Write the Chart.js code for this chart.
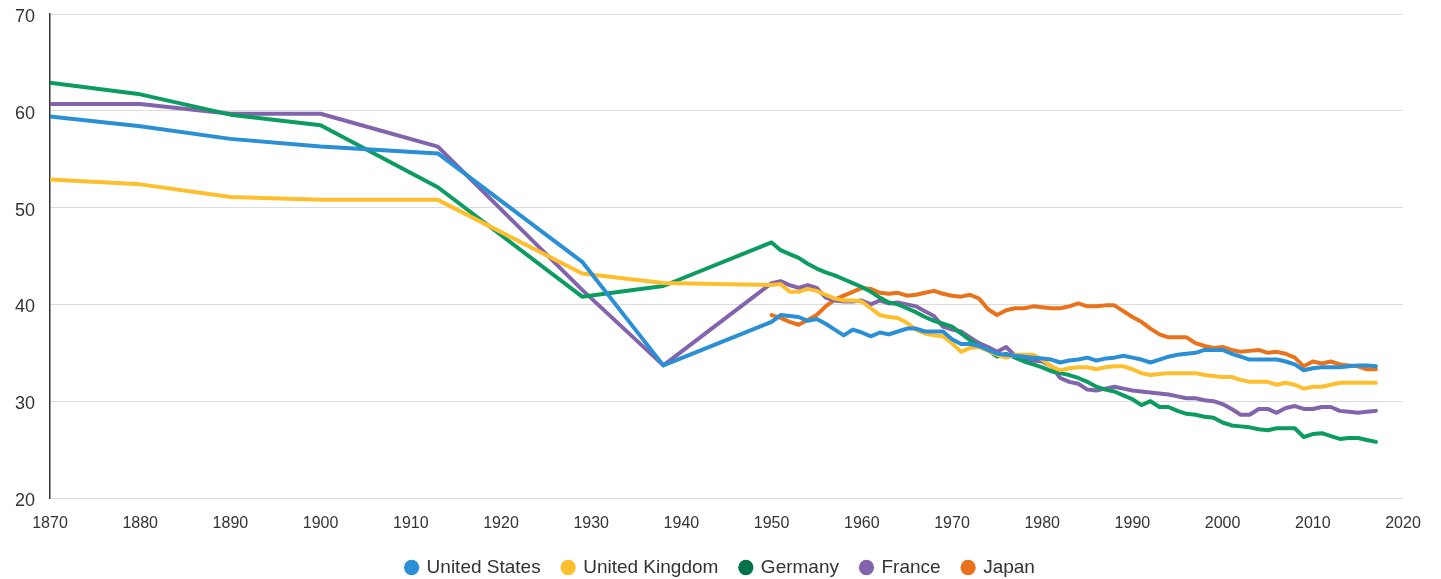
<!DOCTYPE html>
<html>
<head>
<meta charset="utf-8">
<script src="https://cdn.jsdelivr.net/npm/chart.js@4.4.1/dist/chart.umd.min.js"></script>
<style>
html,body{margin:0;padding:0;background:#fff;}
#wrap{width:1441px;height:579px;position:relative;}
</style>
</head>
<body>
<div id="wrap"><canvas id="c" width="1441" height="579"></canvas></div>
<script>
const years = [1870,1880,1890,1900,1913,1929,1938,
1950,1951,1952,1953,1954,1955,1956,1957,1958,1959,
1960,1961,1962,1963,1964,1965,1966,1967,1968,1969,
1970,1971,1972,1973,1974,1975,1976,1977,1978,1979,
1980,1981,1982,1983,1984,1985,1986,1987,1988,1989,
1990,1991,1992,1993,1994,1995,1996,1997,1998,1999,
2000,2001,2002,2003,2004,2005,2006,2007,2008,2009,
2010,2011,2012,2013,2014,2015,2016,2017];

const unitedStates = [59.4,58.4,57.1,56.3,55.6,44.4,33.7,
38.2,38.9,38.8,38.7,38.3,38.5,38.0,37.4,36.8,37.4,
37.1,36.7,37.1,36.9,37.2,37.5,37.5,37.2,37.2,37.2,
36.4,35.9,35.9,35.7,35.3,34.9,34.8,34.7,34.6,34.5,
34.4,34.3,34.0,34.2,34.3,34.5,34.2,34.4,34.5,34.7,
34.5,34.3,34.0,34.3,34.6,34.8,34.9,35.0,35.3,35.3,
35.3,34.9,34.6,34.3,34.3,34.3,34.3,34.1,33.8,33.2,
33.4,33.5,33.5,33.5,33.6,33.7,33.7,33.6];

const unitedKingdom = [52.9,52.4,51.1,50.8,50.8,43.2,42.2,
42.0,42.1,41.3,41.3,41.6,41.4,41.0,40.6,40.4,40.4,
40.3,39.6,38.9,38.7,38.6,38.1,37.4,37.0,36.8,36.7,
36.0,35.1,35.5,35.6,35.2,34.8,34.5,34.8,34.8,34.8,
34.3,33.6,33.2,33.4,33.5,33.5,33.3,33.5,33.6,33.6,
33.3,32.9,32.7,32.8,32.9,32.9,32.9,32.9,32.7,32.6,
32.5,32.5,32.2,32.0,32.0,32.0,31.7,31.9,31.7,31.3,
31.5,31.5,31.7,31.9,31.9,31.9,31.9,31.9];

const germany = [62.9,61.7,59.6,58.5,52.1,40.8,41.9,
46.4,45.6,45.2,44.8,44.2,43.7,43.3,43.0,42.6,42.2,
41.8,41.3,40.7,40.2,40.0,39.6,39.2,38.7,38.3,38.0,
37.7,37.0,36.3,35.7,35.3,34.6,34.9,34.5,34.1,33.8,
33.5,33.1,32.9,32.7,32.4,32.0,31.5,31.2,31.0,30.6,
30.2,29.6,30.0,29.4,29.4,29.0,28.7,28.6,28.4,28.3,
27.8,27.5,27.4,27.3,27.1,27.0,27.2,27.2,27.2,26.3,
26.6,26.7,26.4,26.1,26.2,26.2,26.0,25.8];

const france = [60.7,60.7,59.7,59.7,56.3,41.5,33.7,
42.2,42.4,42.0,41.7,42.0,41.7,40.7,40.4,40.3,40.3,
40.4,40.0,40.4,40.1,40.2,40.0,39.8,39.3,38.8,37.7,
37.4,37.2,36.6,36.0,35.6,35.1,35.6,34.7,34.4,34.2,
34.1,33.6,32.4,32.0,31.8,31.2,31.1,31.3,31.5,31.3,
31.1,31.0,30.9,30.8,30.7,30.5,30.3,30.3,30.1,30.0,
29.7,29.2,28.6,28.6,29.2,29.2,28.8,29.3,29.5,29.2,
29.2,29.4,29.4,29.0,28.9,28.8,28.9,29.0];

const japan = [null,null,null,null,null,null,null,
38.9,38.6,38.2,37.9,38.4,38.9,39.8,40.5,40.9,41.3,
41.7,41.6,41.2,41.1,41.2,40.9,41.0,41.2,41.4,41.1,
40.9,40.8,41.0,40.6,39.5,38.9,39.4,39.6,39.6,39.8,
39.7,39.6,39.6,39.8,40.1,39.8,39.8,39.9,39.9,39.3,
38.7,38.2,37.5,36.9,36.6,36.6,36.6,36.0,35.7,35.5,
35.6,35.3,35.1,35.2,35.3,35.0,35.1,34.9,34.5,33.6,
34.1,33.9,34.1,33.8,33.7,33.6,33.3,33.3];

const xTicks = [1870,1880,1890,1900,1910,1920,1930,1940,1950,1960,1970,1980,1990,2000,2010,2020];
const yTicks = [20,30,40,50,60,70];

const seriesNames = ['United States','United Kingdom','Germany','France','Japan'];
const lineColors = ['#2a8fd4','#fdbf2e','#0c9c62','#8264ad','#e8731c'];
const legendColors = ['#2a8fd4','#fdbf2e','#00734a','#8264ad','#e8731c'];
const seriesValues = [unitedStates, unitedKingdom, germany, france, japan];

const datasets = seriesValues.map((vals, i) => ({
  label: seriesNames[i],
  data: years.map((y, j) => ({x: y, y: vals[j]})),
  borderColor: lineColors[i],
  backgroundColor: legendColors[i],
  borderWidth: 4,
  pointRadius: 0,
  pointHoverRadius: 0,
  tension: 0,
  spanGaps: false,
  borderJoinStyle: 'round',
  borderCapStyle: 'round',
  order: i
}));

const FONT = "'Liberation Sans', Arial, sans-serif";

new Chart(document.getElementById('c'), {
  type: 'line',
  data: { datasets },
  options: {
    responsive: false,
    animation: false,
    events: [],
    layout: { padding: { left: 0, right: 0, top: 0, bottom: 0 } },
    plugins: {
      tooltip: { enabled: false },
      legend: {
        position: 'bottom',
        maxHeight: 43,
        labels: {
          usePointStyle: true,
          pointStyle: 'circle',
          boxWidth: 11,
          boxHeight: 10.8,
          padding: 22,
          color: '#333',
          font: { family: FONT, size: 19 },
          generateLabels: (chart) => chart.data.datasets.map((d, i) => ({
            text: d.label,
            fillStyle: legendColors[i],
            strokeStyle: legendColors[i],
            lineWidth: 0,
            pointStyle: 'circle',
            hidden: false,
            datasetIndex: i,
            fontColor: '#333'
          }))
        }
      }
    },
    scales: {
      x: {
        type: 'linear',
        min: 1870,
        max: 2020,
        afterBuildTicks: (s) => { s.ticks = xTicks.map(v => ({value: v})); },
        afterFit: (s) => { s.height = 38; s.paddingRight = 38; s.paddingLeft = 0; },
        grid: { display: false, drawTicks: false },
        border: { display: false },
        ticks: {
          color: '#333',
          font: { family: FONT, size: 16 },
          padding: 16,
          maxRotation: 0,
          autoSkip: false,
          callback: (v) => String(v)
        }
      },
      y: {
        min: 20,
        max: 70,
        afterBuildTicks: (s) => { s.ticks = yTicks.map(v => ({value: v})); },
        afterFit: (s) => { s.width = 50; s.paddingTop = 14; s.paddingBottom = 0; },
        grid: { color: '#dcdcdc', lineWidth: 1, drawTicks: false },
        border: { display: true, color: '#333', width: 1.5 },
        ticks: {
          color: '#333',
          font: { family: FONT, size: 18 },
          padding: 15,
          labelOffset: 3,
          callback: (v) => String(v)
        }
      }
    }
  }
});
</script>
</body>
</html>
